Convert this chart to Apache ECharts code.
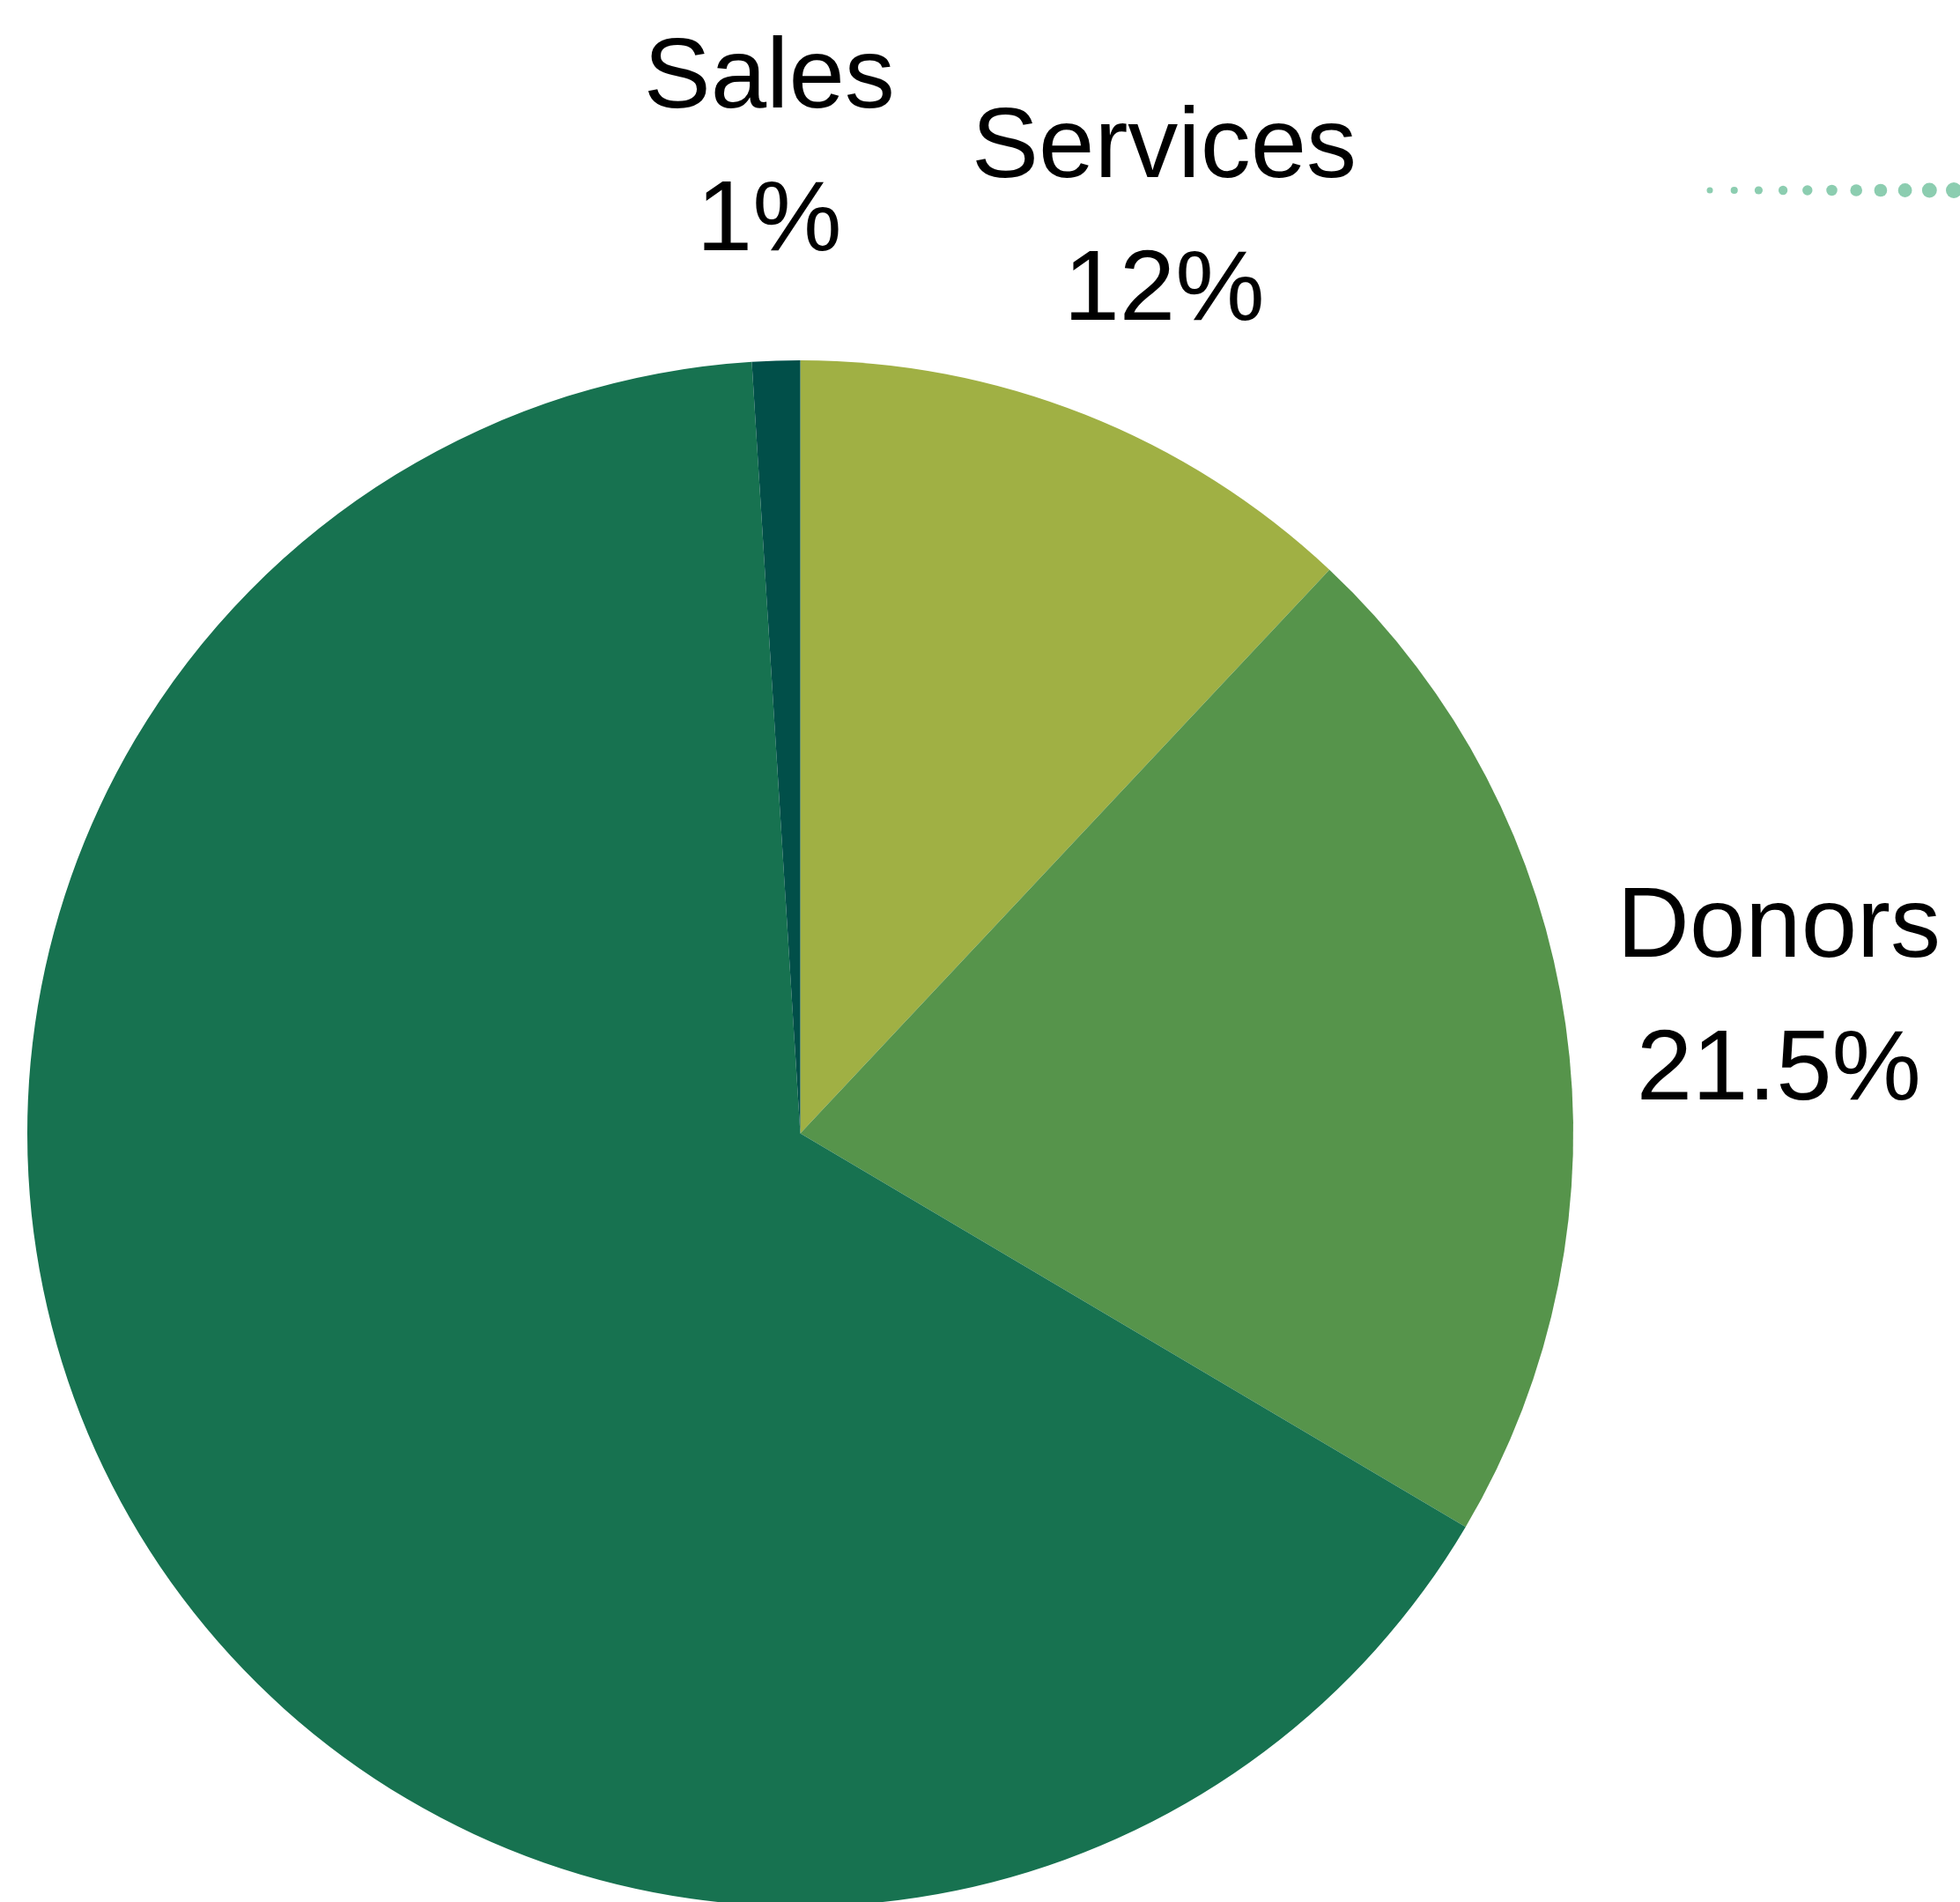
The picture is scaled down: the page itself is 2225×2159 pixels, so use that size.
<!DOCTYPE html>
<html>
<head>
<meta charset="utf-8">
<script src="https://cdn.jsdelivr.net/npm/echarts@6/dist/echarts.min.js"></script>
<style>
html,body{margin:0;padding:0;background:#fff;}
#chart{width:2225px;height:2159px;}
</style>
</head>
<body>
<div id="chart"></div>
<script>
// Data
const categories = ['Services', 'Donors', 'Grants', 'Sales'];
const shares = [12, 21.5, 65.5, 1];
const sliceColors = ['#a0b044', '#56944b', '#177250', '#014f49'];
const showLabel = [true, true, false, true];
const dotCount = 12;

const CX = 908.5, CY = 1286.5, R = 877.5;
const LABEL_R = 1122;

const total = shares.reduce((a, b) => a + b, 0);
function midAngle(i) {
  let before = 0;
  for (let k = 0; k < i; k++) before += shares[k];
  return (before + shares[i] / 2) / total * 2 * Math.PI; // clockwise from top
}

const chart = echarts.init(document.getElementById('chart'), null, {renderer: 'canvas'});

const dots = [];
for (let i = 0; i < dotCount; i++) {
  dots.push({
    type: 'circle',
    shape: {cx: 1941 + i * 27.7, cy: 216, r: 3.5 + i * 0.55},
    style: {fill: '#8ccdb0'},
    silent: true
  });
}

chart.setOption({
  animation: false,
  backgroundColor: '#ffffff',
  graphic: dots,
  series: [{
    type: 'pie',
    center: [CX, CY],
    radius: R,
    startAngle: 90,
    clockwise: true,
    avoidLabelOverlap: false,
    emphasis: {disabled: true},
    itemStyle: {borderWidth: 0},
    label: {
      show: true,
      position: 'outside',
      formatter: '{b}\n{c}%',
      fontFamily: '"Liberation Sans", Arial, sans-serif',
      fontSize: 114,
      lineHeight: 162,
      color: '#000000'
    },
    labelLine: {show: false},
    labelLayout: function (p) {
      const a = midAngle(p.dataIndex);
      return {
        x: CX + Math.sin(a) * LABEL_R,
        y: CY - Math.cos(a) * LABEL_R + 7,
        align: 'center',
        verticalAlign: 'middle'
      };
    },
    data: categories.map((c, i) => ({
      name: c,
      value: shares[i],
      itemStyle: {color: sliceColors[i]},
      label: {show: showLabel[i]}
    }))
  }]
});
</script>
</body>
</html>
